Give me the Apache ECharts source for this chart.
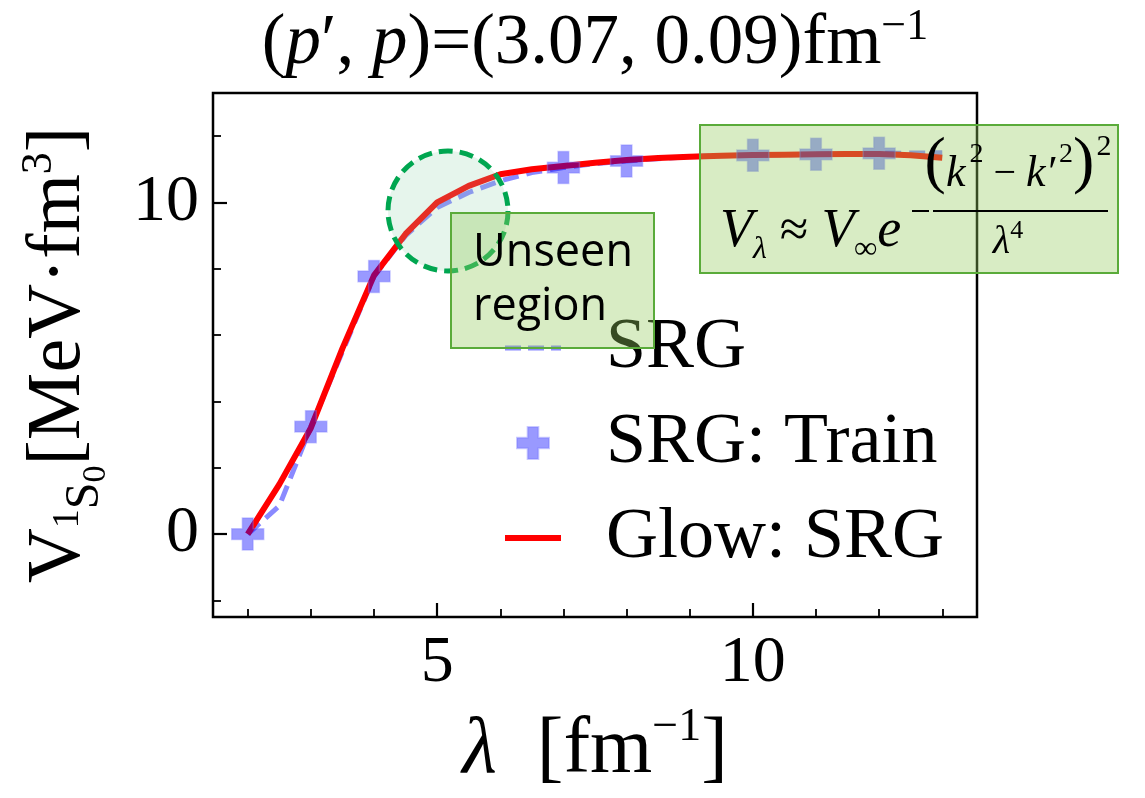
<!DOCTYPE html>
<html>
<head>
<meta charset="utf-8">
<script src="https://cdn.jsdelivr.net/npm/echarts@6/dist/echarts.min.js"></script>
<style>
html,body{margin:0;padding:0;background:#fff;}
#chart{width:1145px;height:798px;}
</style>
</head>
<body>
<div id="chart"></div>
<script>
// ---- data ----
const lambdaGrid = [2, 2.5, 3, 3.5, 4, 4.5, 5, 5.5, 6, 6.5, 7, 7.5, 8, 8.5, 9, 9.5, 10, 10.5, 11, 11.5, 12, 12.5, 13];
const srgValues  = [0, 0.85, 3.24, 5.5, 7.77, 9.0, 9.85, 10.3, 10.65, 10.9, 11.05, 11.17, 11.25, 11.32, 11.38, 11.41, 11.42, 11.44, 11.45, 11.47, 11.48, 11.49, 11.5];
const glowValues = [0, 1.5, 3.2, 5.6, 7.8, 9.05, 10.0, 10.5, 10.85, 11.0, 11.1, 11.2, 11.28, 11.34, 11.38, 11.41, 11.43, 11.44, 11.45, 11.46, 11.46, 11.42, 11.35];
const trainLambda = [2, 3, 4, 7, 8, 10, 11, 12];
const trainValues = [0, 3.24, 7.77, 11.05, 11.25, 11.42, 11.45, 11.48];
const xMajorTicks = [5, 10];
const xMinorTicks = [2, 3, 4, 5, 6, 7, 8, 9, 10, 11, 12, 13];
const yMajorTicks = [0, 10];
const yMinorTicks = [-2, 0, 2, 4, 6, 8, 10, 12];
const seriesNames = ['SRG', 'SRG: Train', 'Glow: SRG'];

const zip = (xs, ys) => xs.map((x, i) => [x, ys[i]]);
const SERIF = "'Liberation Serif', 'Times New Roman', serif";
const plusPath = 'path://M1,0 L2,0 L2,1 L3,1 L3,2 L2,2 L2,3 L1,3 L1,2 L0,2 L0,1 L1,1 Z';
const dashIcon = 'path://M0,0 L16,0 L16,5 L0,5 Z M23,0 L39,0 L39,5 L23,5 Z M46,0 L56,0 L56,5 L46,5 Z';
const lineIcon = 'path://M0,0 L56,0 L56,6 L0,6 Z';

// rich-text token helper: vertical position set through top padding
const tok = (size, pad, extra, padLeft) => Object.assign({fontFamily: SERIF, fontSize: size, verticalAlign: 'top', padding: [pad, 0, 0, padLeft || 0], color: '#000', fill: '#000', fontWeight: 'normal'}, extra || {});
const IT = {fontStyle: 'italic'};

const chart = echarts.init(document.getElementById('chart'), null, {renderer: 'canvas'});

const xBase = {type: 'value', min: 1.45, max: 13.55, position: 'bottom', splitLine: {show: false}};
const yBase = {type: 'value', min: -2.5, max: 13.3, position: 'left', splitLine: {show: false}};

const option = {
  animation: false,
  backgroundColor: '#fff',
  title: {
    text: '{n|(}{i|p}{n|′, }{i|p}{n|)=(3.07, 0.09)fm}{s|−1}',
    left: 590, top: 0, textAlign: 'center',
    textStyle: {
      fontWeight: 'normal',
      rich: {
        n: tok(71, 4),
        i: tok(71, 4, IT),
        s: tok(44, 0)
      }
    }
  },
  grid: {left: 213, right: 168, top: 93, bottom: 181, show: true, borderColor: '#000', borderWidth: 2.5, backgroundColor: 'transparent', outerBoundsMode: 'none', containLabel: false},
  legend: {
    orient: 'vertical', left: 500, top: 306,
    itemWidth: 56, itemHeight: 32, itemGap: 21,
    textStyle: {fontFamily: SERIF, fontSize: 72, lineHeight: 74, color: '#000', padding: [0, 0, 0, 40]},
    data: [{name: seriesNames[0], icon: dashIcon}, {name: seriesNames[1], icon: plusPath}, {name: seriesNames[2], icon: lineIcon}]
  },
  xAxis: [
    Object.assign({}, xBase, {
      axisLine: {show: false, onZero: false},
      axisTick: {show: true, inside: true, length: 14, lineStyle: {color: '#000', width: 2.2}, customValues: xMajorTicks},
      axisLabel: {show: true, customValues: xMajorTicks, margin: 14, fontFamily: SERIF, fontSize: 66, color: '#000'},
      name: '{l|λ}{n|  [fm}{s|−1}{n|]}',
      nameLocation: 'middle', nameGap: 86,
      nameTextStyle: {
        rich: {
          l: tok(80, 8, IT),
          n: tok(80, 8),
          s: tok(46, 2)
        }
      }
    }),
    Object.assign({}, xBase, {
      axisLine: {show: false, onZero: false},
      axisTick: {show: true, inside: true, length: 8, lineStyle: {color: '#000', width: 1.8}, customValues: xMinorTicks},
      axisLabel: {show: false}
    })
  ],
  yAxis: [
    Object.assign({}, yBase, {
      axisLine: {show: false, onZero: false},
      axisTick: {show: true, inside: true, length: 14, lineStyle: {color: '#000', width: 2.2}, customValues: yMajorTicks},
      axisLabel: {show: true, customValues: yMajorTicks, margin: 14, fontFamily: SERIF, fontSize: 66, color: '#000'},
      name: '{v|V}{a|1}{b|S}{c|0}{n|[MeV·fm}{s|3}{n|]}',
      nameLocation: 'middle', nameRotate: 90, nameGap: 100,
      nameTextStyle: {
        rich: {
          v: tok(76, 10),
          a: tok(38, 38),
          b: tok(48, 50),
          c: tok(34, 68),
          n: tok(76, 10),
          s: tok(44, 6)
        }
      }
    }),
    Object.assign({}, yBase, {
      axisLine: {show: false, onZero: false},
      axisTick: {show: true, inside: true, length: 8, lineStyle: {color: '#000', width: 1.8}, customValues: yMinorTicks},
      axisLabel: {show: false}
    })
  ],
  series: [
    {
      name: seriesNames[0], type: 'line', data: zip(lambdaGrid, srgValues),
      symbol: 'none', color: 'rgba(40,40,255,0.55)',
      itemStyle: {color: 'rgba(40,40,255,0.55)'},
      lineStyle: {color: 'rgba(40,40,255,0.55)', width: 5, type: [16, 8]},
      z: 2
    },
    {
      name: seriesNames[2], type: 'line', data: zip(lambdaGrid, glowValues),
      symbol: 'none', color: '#ff0000',
      itemStyle: {color: '#ff0000'},
      lineStyle: {color: '#ff0000', width: 6},
      z: 3
    },
    {
      name: seriesNames[1], type: 'scatter', data: zip(trainLambda, trainValues),
      symbol: plusPath, symbolSize: 32, color: 'rgba(0,0,255,0.5)',
      itemStyle: {color: 'rgba(0,0,255,0.5)', borderColor: 'rgba(120,120,255,0.5)', borderWidth: 1.5},
      z: 4
    }
  ],
  graphic: [
    {type: 'circle', z: 100, shape: {cx: 448, cy: 211, r: 60},
      style: {fill: 'rgba(140,210,170,0.22)', stroke: '#00a650', lineWidth: 5, lineDash: [14, 7]}},
    {type: 'rect', z: 101, shape: {x: 451, y: 213, width: 203, height: 135},
      style: {fill: 'rgba(150,203,96,0.37)', stroke: '#5aab3a', lineWidth: 2}},
    {type: 'text', z: 102, x: 473, y: 226,
      style: {text: 'Unseen\nregion', fontFamily: "'Open Sans', 'Noto Sans', sans-serif", fontSize: 45, lineHeight: 54, fill: '#000', verticalAlign: 'top'}},
    {type: 'rect', z: 101, shape: {x: 700, y: 125, width: 418, height: 148},
      style: {fill: 'rgba(150,203,96,0.37)', stroke: '#5aab3a', lineWidth: 2}},
    {type: 'text', z: 102, x: 720, y: 200,
      style: {
        text: '{v|V}{s|λ}{o| ≈ }{v|V}{s|∞}{v|e}',
        verticalAlign: 'top',
        rich: {
          v: tok(54, 5, IT),
          o: tok(52, 6),
          s: tok(32, 34, IT)
        }
      }},
    {type: 'line', z: 102, shape: {x1: 912, y1: 211, x2: 929, y2: 211}, style: {stroke: '#000', lineWidth: 2}},
    {type: 'line', z: 102, shape: {x1: 933, y1: 211, x2: 1108, y2: 211}, style: {stroke: '#000', lineWidth: 2}},
    {type: 'text', z: 102, x: 1018, y: 132,
      style: {
        text: '{p|(}{k|k}{s|2}{o| − }{k|k′}{s|2}{p|)}{t|2}',
        align: 'center', verticalAlign: 'top',
        rich: {
          p: tok(64, 0),
          k: tok(44, 20, IT),
          o: tok(40, 22),
          s: tok(28, 9, null, 4),
          t: tok(30, 0, null, 2)
        }
      }},
    {type: 'text', z: 102, x: 1008, y: 218,
      style: {
        text: '{l|λ}{s|4}',
        align: 'center', verticalAlign: 'top',
        rich: {
          l: tok(40, 4, IT),
          s: tok(26, 0)
        }
      }}
  ]
};
chart.setOption(option);
</script>
</body>
</html>
